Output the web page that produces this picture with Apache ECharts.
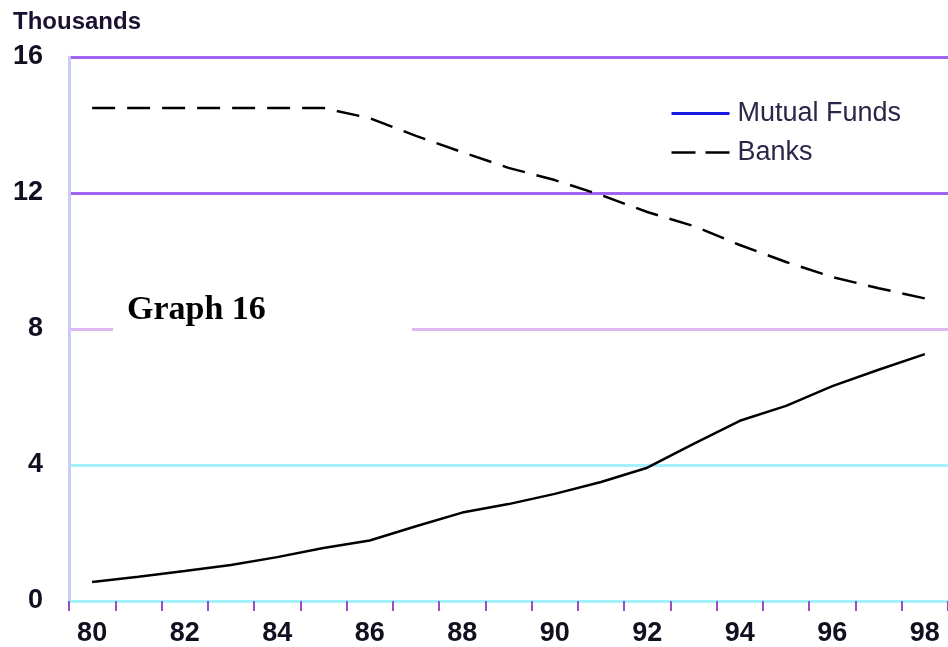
<!DOCTYPE html>
<html>
<head>
<meta charset="utf-8">
<script src="https://cdn.jsdelivr.net/npm/echarts@6/dist/echarts.min.js"></script>
<style>
html,body{margin:0;padding:0;background:#fff;}
#chart{width:948px;height:647px;}
</style>
</head>
<body>
<div id="chart"></div>
<script>
var years = ['80','81','82','83','84','85','86','87','88','89','90','91','92','93','94','95','96','97','98'];
var mutualFunds = [0.56,0.71,0.88,1.06,1.29,1.56,1.78,2.2,2.6,2.85,3.15,3.5,3.92,4.62,5.3,5.74,6.32,6.8,7.26];
var banks = [14.5,14.5,14.5,14.5,14.5,14.5,14.2,13.68,13.2,12.74,12.38,11.94,11.44,11.03,10.47,9.97,9.53,9.2,8.9];
var yTicks = [0,4,8,12,16];

var chart = echarts.init(document.getElementById('chart'));
chart.setOption({
  backgroundColor:'#ffffff',
  animation:false,
  title:{
    text:'Thousands', left:8, top:5,
    textStyle:{fontFamily:'Liberation Sans, Arial', fontWeight:'bold', fontSize:24, color:'#1a1030'}
  },
  grid:{left:69, right:0, top:57, bottom:46, containLabel:false},
  legend:{
    orient:'vertical', left:665, top:95,
    itemWidth:58, itemHeight:24, itemGap:12,
    textStyle:{fontFamily:'Liberation Sans, Arial', fontSize:27, color:'#2a2848', padding:[0,0,0,3]},
    data:[
      {name:'Mutual Funds', itemStyle:{opacity:0}, lineStyle:{color:'#1a1ae6', width:3}},
      {name:'Banks', itemStyle:{opacity:0}, lineStyle:{color:'#000000', width:2.5, type:[24,10]}}
    ]
  },
  xAxis:{
    type:'category', data:years, boundaryGap:true,
    axisLine:{show:true, lineStyle:{color:'#a4f2fc', width:3}},
    axisTick:{show:true, interval:0, length:10, lineStyle:{color:'#9a50c4', width:2}},
    axisLabel:{interval:1, margin:19, fontFamily:'Liberation Sans, Arial', fontWeight:'bold', fontSize:27, color:'#101020'},
    splitLine:{show:false}
  },
  yAxis:{
    type:'value', min:0, max:16, interval:4,
    axisLine:{show:true, lineStyle:{color:'#c8ccf8', width:3}},
    axisTick:{show:false},
    axisLabel:{margin:26, padding:[5,0,0,0], fontFamily:'Liberation Sans, Arial', fontWeight:'bold', fontSize:27, color:'#101020',
      formatter:function(v){ return yTicks.indexOf(v) >= 0 ? String(v) : ''; }},
    splitLine:{show:true, lineStyle:{color:['#a4f2fc','#a4f0fc','#deb8f0','#a064f0','#a064f0'], width:3}}
  },
  graphic:[
    {type:'rect', z:100, shape:{x:113, y:292, width:299, height:46}, style:{fill:'#ffffff'}},
    {type:'text', z:101, left:127, top:293,
      style:{text:'Graph 16', fontFamily:'Liberation Serif, Times New Roman, serif', fontWeight:'bold', fontSize:34, fill:'#000000'}}
  ],
  series:[
    {name:'Mutual Funds', type:'line', data:mutualFunds, symbol:'none', smooth:false,
      lineStyle:{color:'#000000', width:2.5}, itemStyle:{color:'#000000'}, z:5},
    {name:'Banks', type:'line', data:banks, symbol:'none', smooth:false,
      lineStyle:{color:'#000000', width:2.5, type:[23,12]}, itemStyle:{color:'#000000'}, z:5}
  ]
});
</script>
</body>
</html>
